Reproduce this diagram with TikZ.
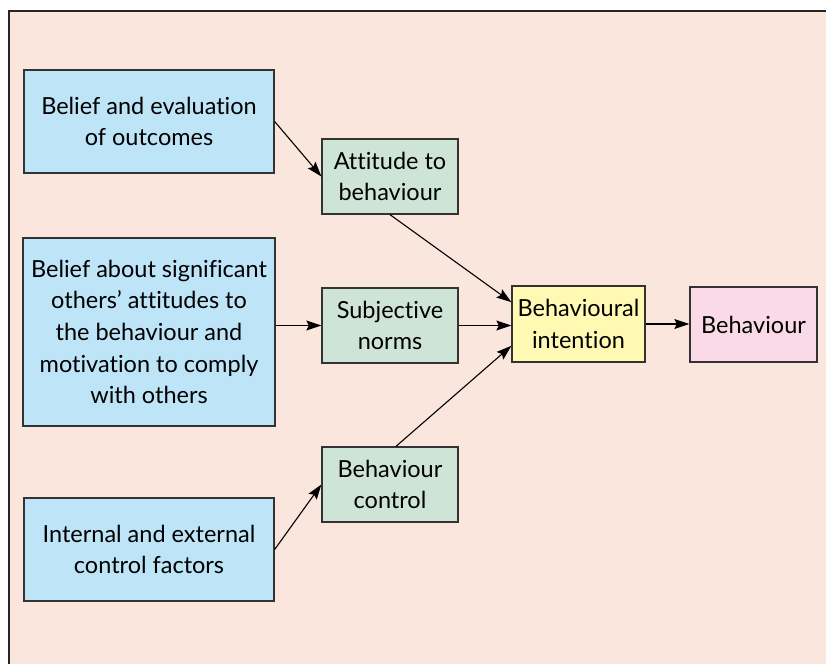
\documentclass[tikz,border=0pt]{standalone}
\usepackage{fontspec}
\setmainfont{Lato}[Ligatures=CommonOff]
\usetikzlibrary{arrows.meta}
\definecolor{bgc}{HTML}{FBE6DD}
\definecolor{bluec}{HTML}{BEE4F7}
\definecolor{greenc}{HTML}{CDE4D6}
\definecolor{yellowc}{HTML}{FFF9B3}
\definecolor{pinkc}{HTML}{FADAE6}
\definecolor{edgec}{HTML}{333333}
\tikzset{
  boxbase/.style={draw=edgec, line width=1.3pt, align=center, inner sep=0pt,
    font=\fontsize{23.5}{31.7}\selectfont, text=black},
  srcbox/.style={boxbase, fill=bluec, minimum width=250pt},
  midbox/.style={boxbase, fill=greenc, minimum width=136pt, minimum height=75pt},
  intbox/.style={boxbase, fill=yellowc, minimum width=133pt, minimum height=76pt},
  behbox/.style={boxbase, fill=pinkc, minimum width=127pt, minimum height=75pt},
  conn/.style={line width=1.1pt, -{Stealth[length=15pt,width=10pt,inset=2.5pt]}}
}
\begin{document}
\begin{tikzpicture}[x=1pt,y=-1pt]
\useasboundingbox (0,0) rectangle (826,663);
\fill[white] (0,0) rectangle (826,663);
\draw[fill=bgc, line width=2pt, draw=black!85] (8.5,11.5) rectangle (840,680);

\node[srcbox, minimum height=103pt] (b1) at (149,121.5) {Belief and evaluation\\of outcomes};
\node[srcbox, minimum height=188pt, minimum width=252pt] (b2) at (149,332) {Belief about significant\\others’ attitudes to\\the behaviour and\\motivation to comply\\with others};
\node[srcbox, minimum height=103pt] (b3) at (149,549.5) {Internal and external\\control factors};

\node[midbox] (att) at (390,176.5) {Attitude to\\behaviour};
\node[midbox] (subj) at (390,325.5) {Subjective\\norms};
\node[midbox] (ctrl) at (390,484.5) {Behaviour\\control};

\node[intbox] (int) at (578.5,324) {Behavioural\\intention};
\node[behbox] (beh) at (753.5,324.5) {Behaviour};

\draw[conn] (b1.east) -- (att.west);
\draw[conn] (b2.east |- subj.west) -- (subj.west);
\draw[conn] (b3.east) -- (ctrl.west);
\draw[conn] (att.south) -- (int.162);
\draw[conn] (subj.east) -- (subj.east -| int.west);
\draw[conn] ([xshift=6pt]ctrl.north) -- (int.198);
\draw[conn] (int.east) -- (int.east -| beh.west);
\end{tikzpicture}
\end{document}
